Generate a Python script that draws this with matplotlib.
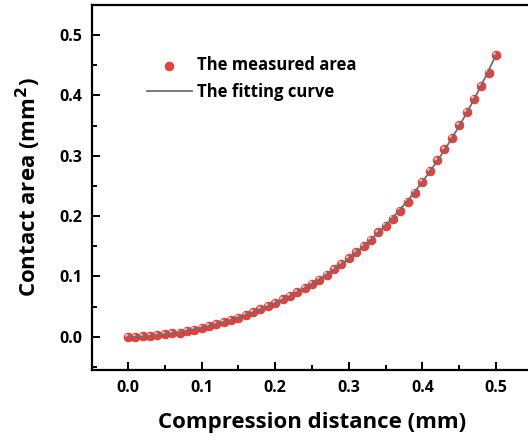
import matplotlib
matplotlib.use("Agg")
import matplotlib.pyplot as plt
import matplotlib.transforms as mtransforms
from matplotlib.ticker import MultipleLocator
import numpy as np

# compression distance (mm) and measured contact area (mm^2)
distance = [0.00, 0.01, 0.02, 0.03, 0.04, 0.05, 0.06, 0.07, 0.08, 0.09,
            0.10, 0.11, 0.12, 0.13, 0.14, 0.15, 0.16, 0.17, 0.18, 0.19,
            0.20, 0.21, 0.22, 0.23, 0.24, 0.25, 0.26, 0.27, 0.28, 0.29,
            0.30, 0.31, 0.32, 0.33, 0.34, 0.35, 0.36, 0.37, 0.38, 0.39,
            0.40, 0.41, 0.42, 0.43, 0.44, 0.45, 0.46, 0.47, 0.48, 0.49,
            0.50]
area = [0.000, 0.000, 0.001, 0.001, 0.003, 0.004, 0.006, 0.007, 0.010, 0.012,
        0.015, 0.018, 0.021, 0.024, 0.028, 0.032, 0.036, 0.041, 0.046, 0.051,
        0.056, 0.062, 0.068, 0.074, 0.081, 0.088, 0.095, 0.103, 0.112, 0.121,
        0.130, 0.140, 0.150, 0.161, 0.173, 0.184, 0.196, 0.209, 0.224, 0.239,
        0.257, 0.275, 0.293, 0.311, 0.330, 0.351, 0.373, 0.395, 0.416, 0.438,
        0.467]

x_ticks = [0.0, 0.1, 0.2, 0.3, 0.4, 0.5]
y_ticks = [0.0, 0.1, 0.2, 0.3, 0.4, 0.5]

plt.rcParams['font.family'] = ['Open Sans', 'DejaVu Sans']
plt.rcParams['font.weight'] = 'bold'

fig = plt.figure(figsize=(5.28, 4.44), dpi=100)
ax = fig.add_axes([92 / 528, 74 / 444, 440 / 528, 365 / 444])

# fitting curve (4th order polynomial through the measured points)
coef = np.polyfit(distance, area, 4)
xf = np.linspace(min(distance), max(distance), 300)
yf = np.clip(np.polyval(coef, xf), 0, None)

ax.scatter(distance, area, s=40, color='#e8403d', edgecolors='#d42f2c',
           linewidths=0.5, zorder=2, label='The measured area')
# little highlight on each ball
hl = ax.transData + mtransforms.ScaledTranslation(-1.0 / 72, 1.0 / 72, fig.dpi_scale_trans)
ax.scatter(distance, area, s=5, color='#f7b3b0', edgecolors='none',
           transform=hl, zorder=3)
ax.plot(xf, yf, color='#6e6e6e', lw=1.3, zorder=4, label='The fitting curve')

ax.set_xlim(-0.049, 0.549)
ax.set_ylim(-0.055, 0.55)
ax.set_xticks(x_ticks)
ax.set_yticks(y_ticks)
ax.xaxis.set_minor_locator(MultipleLocator(0.05))
ax.yaxis.set_minor_locator(MultipleLocator(0.05))
ax.set_xticklabels(['%.1f' % v for v in x_ticks])
ax.set_yticklabels(['%.1f' % v for v in y_ticks])

ax.tick_params(which='both', direction='in', width=1.4, labelsize=11.5, colors='black')
ax.tick_params(which='major', length=6, pad=7)
ax.tick_params(which='minor', length=3.5)
for s in ax.spines.values():
    s.set_linewidth(1.6)
ax.spines['right'].set_visible(False)

ax.set_xlabel('Compression distance (mm)', fontsize=16, fontweight='bold', labelpad=12)
ax.set_ylabel('Contact area (mm$^\\mathbf{2}$)', fontsize=16, fontweight='bold', labelpad=12)

leg = ax.legend(loc='upper left', bbox_to_anchor=(0.09, 0.9), frameon=False,
                fontsize=12, handlelength=2.7, handletextpad=0.3, labelspacing=0.5,
                markerscale=1.0)

fig.savefig('out.png', dpi=100, facecolor='white')
